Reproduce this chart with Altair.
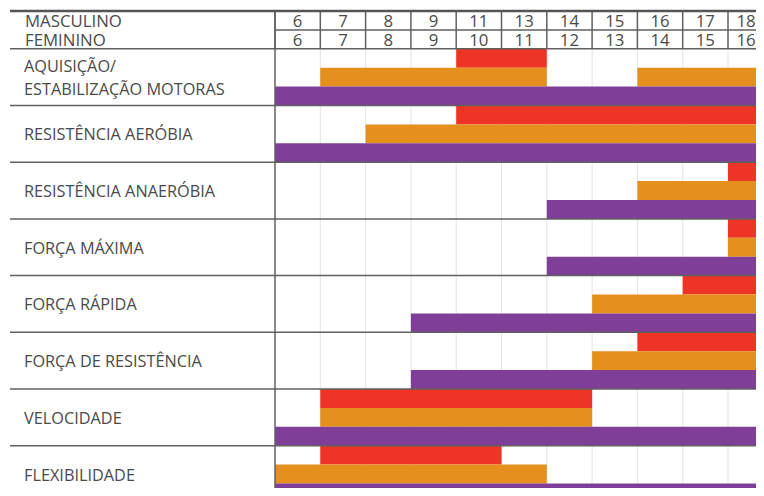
import altair as alt
import pandas as pd

categories = [
    "AQUISIÇÃO/\nESTABILIZAÇÃO MOTORAS",
    "RESISTÊNCIA AERÓBIA",
    "RESISTÊNCIA ANAERÓBIA",
    "FORÇA MÁXIMA",
    "FORÇA RÁPIDA",
    "FORÇA DE RESISTÊNCIA",
    "VELOCIDADE",
    "FLEXIBILIDADE",
]
ages_masc = ["6", "7", "8", "9", "11", "13", "14", "15", "16", "17", "18"]
ages_fem = ["6", "7", "8", "9", "10", "11", "12", "13", "14", "15", "16"]

# spans in age-column indices (start, end), 0 = first age column
red_spans = [[(4, 6)], [(4, 11)], [(10, 11)], [(10, 11)], [(9, 11)], [(8, 11)], [(1, 7)], [(1, 5)]]
orange_spans = [[(1, 6), (8, 11)], [(2, 11)], [(8, 11)], [(10, 11)], [(7, 11)], [(7, 11)], [(1, 7)], [(0, 6)]]
purple_spans = [[(0, 11)], [(0, 11)], [(6, 11)], [(6, 11)], [(3, 11)], [(3, 11)], [(0, 11)], [(0, 11)]]

series_names = ["red", "orange", "purple"]
series_colors = ["#EE3424", "#E58F1C", "#7F3F98"]

TXT = "#4a4a4a"
LINE = "#606060"
FONT = "Open Sans"
LAB_SIZE = 16.3
HEAD_SIZE = 16.8
LINE_H = 23

W, H = 748, 480
COLW, X0 = 45.3, 267.0
ROWH, Y0 = 18.9, 3.0

# ---- build tables ----
bars = []
for k, spans in enumerate([red_spans, orange_spans, purple_spans]):
    for r, segs in enumerate(spans):
        for s, e in segs:
            u = 2 + 3 * r + k
            bars.append({"series": series_names[k], "start": s, "end": e, "u0": u, "u1": u + 1})
bars = pd.DataFrame(bars)

ncol = len(ages_masc)
max_center = (W - X0 - 10) / COLW  # keep the last header number inside the drawing
header = pd.DataFrame(
    [{"c": min(i + 0.5, max_center), "u": 0.5, "t": a} for i, a in enumerate(ages_masc)]
    + [{"c": min(i + 0.5, max_center), "u": 1.5, "t": a} for i, a in enumerate(ages_fem)]
)
side_header = pd.DataFrame([{"u": 0.5, "t": "MASCULINO"}, {"u": 1.5, "t": "FEMININO"}])
labels = pd.DataFrame(
    [
        {"u": 2 + 3 * r + 1.5 - (c.count("\n") * LINE_H / 2) / ROWH, "t": c}
        for r, c in enumerate(categories)
    ]
)

hsep = pd.DataFrame({"u": [2 + 3 * r for r in range(len(categories) + 1)]})
vhead = pd.DataFrame({"c": list(range(ncol + 1)), "u0": 0, "u1": 2})
vfaint = pd.DataFrame({"c": list(range(1, ncol)), "u0": 2, "u1": 2 + 3 * len(categories)})

xs = alt.Scale(domain=[-X0 / COLW, (W - X0) / COLW], nice=False, zero=False)
ys = alt.Scale(domain=[-Y0 / ROWH, (H - Y0) / ROWH], nice=False, zero=False, reverse=True)


def X(f):
    return alt.X(f, type="quantitative", scale=xs, axis=None)


def Y(f):
    return alt.Y(f, type="quantitative", scale=ys, axis=None)


bar_layer = alt.Chart(bars).mark_rect(clip=True).encode(
    x=X("start"), x2="end", y=Y("u0"), y2="u1",
    color=alt.Color("series:N", scale=alt.Scale(domain=series_names, range=series_colors), legend=None),
)

faint = alt.Chart(vfaint).mark_rule(color="#b0b0b0", opacity=0.35, strokeWidth=1, clip=True).encode(
    x=X("c"), y=Y("u0"), y2="u1"
)

left_line = alt.Chart(pd.DataFrame({"c": [0], "u0": [0], "u1": [30]})).mark_rule(
    color=LINE, strokeWidth=1.5, clip=True
).encode(x=X("c"), y=Y("u0"), y2="u1")

vh = alt.Chart(vhead).mark_rule(color=LINE, strokeWidth=1.5, clip=True).encode(
    x=X("c"), y=Y("u0"), y2="u1"
)

mid_line = alt.Chart(pd.DataFrame({"u": [1], "c0": [0], "c1": [ncol]})).mark_rule(
    color=LINE, strokeWidth=1.5, clip=True
).encode(y=Y("u"), x=X("c0"), x2="c1")

hs = alt.Chart(hsep).mark_rule(color=LINE, strokeWidth=1.5, clip=True).encode(
    y=Y("u"), x=alt.value(2), x2=alt.value(W)
)

top_line = alt.Chart(pd.DataFrame({"u": [0]})).mark_rule(color="#555555", strokeWidth=2.5).encode(
    y=Y("u"), x=alt.value(2), x2=alt.value(W)
)

head_txt = alt.Chart(header).mark_text(
    font=FONT, fontSize=HEAD_SIZE, color=TXT, align="center", baseline="middle", dy=1.5
).encode(x=X("c"), y=Y("u"), text="t:N")

side_txt = alt.Chart(side_header).mark_text(
    font=FONT, fontSize=HEAD_SIZE, color=TXT, align="left", baseline="middle", dy=1.5
).encode(x=alt.value(17), y=Y("u"), text="t:N")

lab_txt = alt.Chart(labels).mark_text(
    font=FONT, fontSize=LAB_SIZE, color=TXT, align="left", baseline="middle",
    lineBreak="\n", lineHeight=LINE_H, dy=1.5
).encode(x=alt.value(16), y=Y("u"), text="t:N")

chart = alt.layer(
    faint, bar_layer, left_line, vh, mid_line, hs, top_line, head_txt, side_txt, lab_txt
).properties(
    width=W, height=H, padding=0, autosize=alt.AutoSizeParams(type="none")
).configure_view(stroke=None)

chart.save("out.html", embed_options={"renderer": "svg", "actions": False})
